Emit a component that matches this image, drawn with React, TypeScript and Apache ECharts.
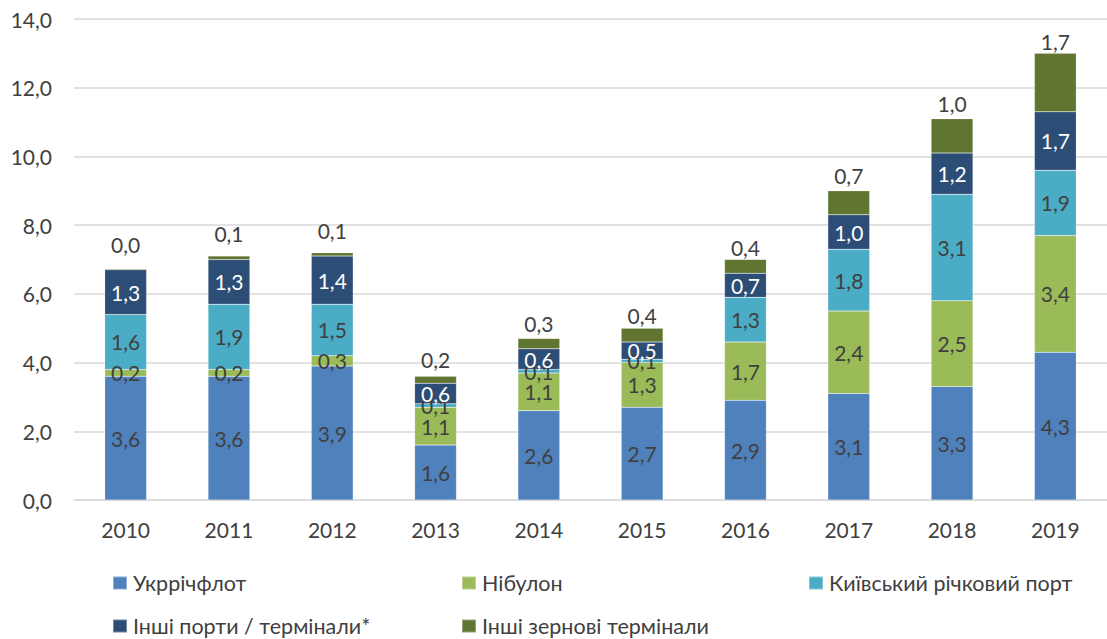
import React, { useEffect, useRef } from "react";
import * as echarts from "echarts";

const years = ["2010", "2011", "2012", "2013", "2014", "2015", "2016", "2017", "2018", "2019"];
const ukrrichflot = [3.6, 3.6, 3.9, 1.6, 2.6, 2.7, 2.9, 3.1, 3.3, 4.3];
const nibulon = [0.2, 0.2, 0.3, 1.1, 1.1, 1.3, 1.7, 2.4, 2.5, 3.4];
const kyivPort = [1.6, 1.9, 1.5, 0.1, 0.1, 0.1, 1.3, 1.8, 3.1, 1.9];
const otherPorts = [1.3, 1.3, 1.4, 0.6, 0.6, 0.5, 0.7, 1.0, 1.2, 1.7];
const otherGrain = [0.03, 0.1, 0.1, 0.2, 0.3, 0.4, 0.4, 0.7, 1.0, 1.7];
const seriesNames = [
  "Укррічфлот",
  "Нібулон",
  "Київський річковий порт",
  "Інші порти / термінали*",
  "Інші зернові термінали",
];

// label gap above the bar top for the top series (style only)
const topLabelGap = [13.5, 12.5, 11.5, 6.5, 4.5, 2.5, 1.5, 4.5, 4.5, 1.5];

const FONT = "Lato, 'Noto Sans', sans-serif";
const fmt = (v: number) => v.toFixed(1).replace(".", ",");

export default function App() {
  const ref = useRef<HTMLDivElement>(null);
  useEffect(() => {
    if (!ref.current) return;
    const chart = echarts.init(ref.current, null, { renderer: "svg" });
    const colors = ["#4F81BD", "#9BBB59", "#4BACC6", "#2C4D75", "#5F7530"];
    const datas = [ukrrichflot, nibulon, kyivPort, otherPorts, otherGrain];
    const labelColors = ["#404040", "#404040", "#404040", "#ffffff", "#404040"];
    const series = datas.map((d, i) => ({
      name: seriesNames[i],
      type: "bar",
      stack: "total",
      data:
        i === 4
          ? d.map((v, j) => ({ value: v, label: { distance: topLabelGap[j] } }))
          : d,
      barWidth: "40.5%",
      itemStyle: { color: colors[i], borderColor: "rgba(255,255,255,0.35)", borderWidth: 0.5 },
      label: {
        show: true,
        position: i === 4 ? "top" : "inside",
        distance: 4,
        color: labelColors[i],
        fontFamily: FONT,
        fontSize: 21,
        formatter: (p: any) => fmt(p.value),
      },
    }));
    const legendPos = [
      { left: 112, top: 572 },
      { left: 461, top: 572 },
      { left: 808, top: 572 },
      { left: 112, top: 615 },
      { left: 461, top: 615 },
    ];
    const legends = seriesNames.map((n, i) => ({
      data: [n],
      left: legendPos[i].left,
      top: legendPos[i].top,
      itemWidth: 14,
      itemHeight: 13,
      itemGap: 4,
      icon: "rect",
      textStyle: { fontFamily: FONT, fontSize: 21.5, color: "#404040", padding: [0, 0, 0, 1] },
      padding: 0,
    }));
    chart.setOption({
      animation: false,
      backgroundColor: "#ffffff",
      color: colors,
      grid: { left: 74, top: 19, width: 1037, height: 481, containLabel: false },
      legend: legends,
      xAxis: {
        type: "category",
        data: years,
        axisLine: { show: true, lineStyle: { color: "#D9D9D9", width: 1 } },
        axisTick: { show: false },
        axisLabel: { fontFamily: FONT, fontSize: 21, color: "#404040", margin: 19 },
      },
      yAxis: {
        type: "value",
        min: 0,
        max: 14,
        interval: 2,
        axisLine: { show: false },
        axisTick: { show: false },
        splitLine: { lineStyle: { color: "#D9D9D9", width: 1.5 } },
        axisLabel: {
          fontFamily: FONT,
          fontSize: 21,
          color: "#404040",
          margin: 22,
          formatter: (v: number) => fmt(v),
        },
      },
      series,
    });
    return () => chart.dispose();
  }, []);
  return (
    <div
      ref={ref}
      style={{ position: "absolute", left: 0, top: 0, width: 1107, height: 639, background: "#fff" }}
    />
  );
}
